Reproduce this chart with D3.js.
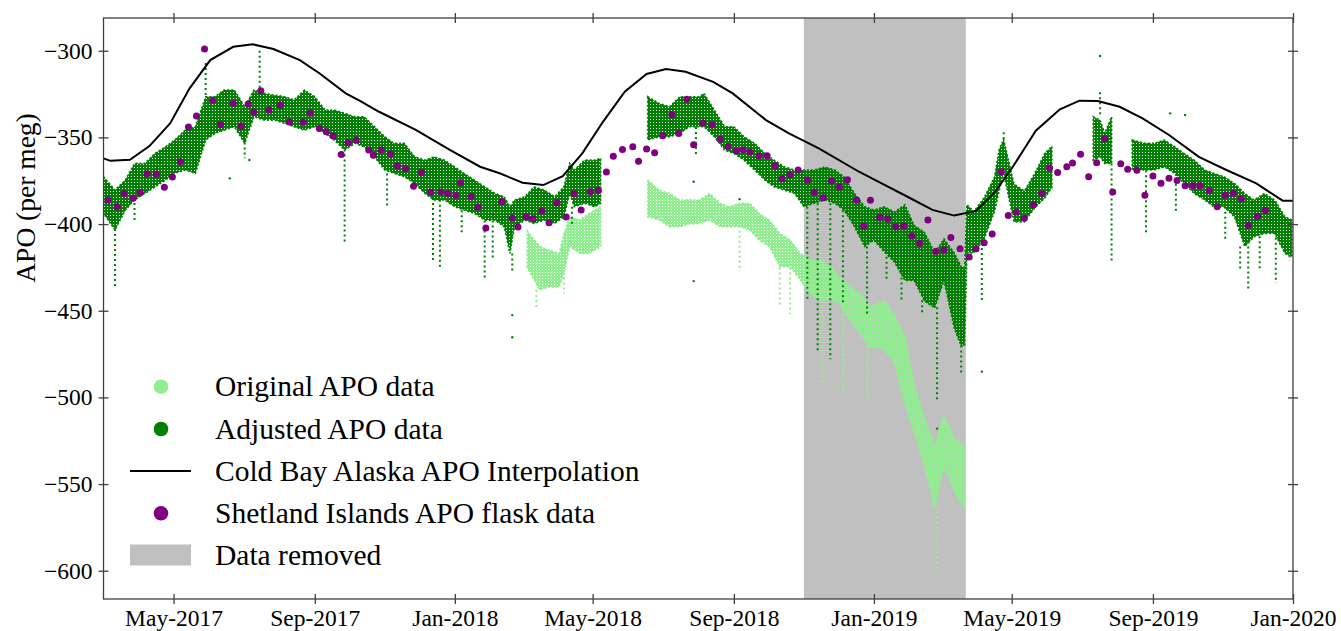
<!DOCTYPE html>
<html><head><meta charset="utf-8">
<script src="https://cdn.jsdelivr.net/npm/d3@7"></script>
<style>
body{margin:0;background:#fff;}
svg{display:block;font-family:"Liberation Serif","Times New Roman",serif;}
</style>
</head><body>
<svg id="chart" width="1341" height="631"></svg>
<script>
// ---------- tick labels ----------
const xTickDates  = ["2017-05-01","2017-09-01","2018-01-01","2018-05-01","2018-09-01","2019-01-01","2019-05-01","2019-09-01","2020-01-01"];
const xTickLabels = ["May-2017","Sep-2017","Jan-2018","May-2018","Sep-2018","Jan-2019","May-2019","Sep-2019","Jan-2020"];
const yTickValues = [-600,-550,-500,-450,-400,-350,-300];
const yTickLabels = ["\u2212600","\u2212550","\u2212500","\u2212450","\u2212400","\u2212350","\u2212300"];

// ---------- Cold Bay Alaska APO interpolation ----------
const coldBayDates = ["2017-03-01","2017-03-07","2017-03-24","2017-04-10","2017-04-28","2017-05-15","2017-06-02","2017-06-22","2017-07-09","2017-07-27","2017-08-19","2017-09-05","2017-09-28","2017-10-10","2017-10-27","2017-11-28","2017-12-28","2018-01-23","2018-02-09","2018-03-01","2018-03-19","2018-04-05","2018-04-22","2018-05-10","2018-05-29","2018-06-17","2018-07-04","2018-07-21","2018-08-14","2018-08-31","2018-09-29","2018-10-19","2018-11-14","2018-12-19","2019-01-06","2019-01-29","2019-02-21","2019-03-12","2019-03-31","2019-04-16","2019-05-02","2019-05-22","2019-06-12","2019-06-29","2019-07-15","2019-08-03","2019-08-23","2019-09-15","2019-10-11","2019-11-04","2019-11-30","2019-12-23","2020-01-01"];
const coldBayValues = [-362.1,-363.5,-362.9,-355,-341.9,-321.7,-305.4,-297.7,-296.3,-299,-305.4,-313,-324.6,-328.8,-335.2,-345.7,-357.3,-366.9,-370.7,-376.1,-377.5,-372.3,-359.2,-341,-323.6,-313.4,-310.6,-312.1,-317.9,-324.6,-340,-347.7,-356.3,-369.8,-375.9,-383.8,-391.8,-395.1,-392.4,-381.9,-366.9,-346.1,-333.8,-328.8,-329,-332.3,-339,-348.6,-361.2,-368.8,-376.5,-386.5,-386.5];

// ---------- Shetland Islands APO flask data ----------
const flaskDates = ["2017-03-05","2017-03-13","2017-03-19","2017-03-27","2017-04-02","2017-04-08","2017-04-16","2017-04-23","2017-04-30","2017-05-07","2017-05-14","2017-05-21","2017-05-28","2017-06-04","2017-06-11","2017-06-22","2017-06-29","2017-07-05","2017-07-10","2017-07-16","2017-07-23","2017-08-02","2017-08-10","2017-08-22","2017-08-28","2017-09-05","2017-09-11","2017-09-17","2017-09-24","2017-09-30","2017-10-07","2017-10-18","2017-10-22","2017-10-29","2017-11-06","2017-11-12","2017-11-19","2017-11-26","2017-12-03","2017-12-11","2017-12-20","2017-12-26","2018-01-02","2018-01-06","2018-01-15","2018-01-21","2018-01-28","2018-02-11","2018-02-20","2018-02-25","2018-03-04","2018-03-10","2018-03-18","2018-03-24","2018-03-31","2018-04-08","2018-04-15","2018-04-21","2018-04-29","2018-05-06","2018-05-13","2018-05-19","2018-05-27","2018-06-05","2018-06-10","2018-06-17","2018-06-24","2018-07-01","2018-07-09","2018-07-15","2018-07-22","2018-07-28","2018-08-05","2018-08-13","2018-08-20","2018-08-27","2018-09-03","2018-09-09","2018-09-15","2018-09-23","2018-09-30","2018-10-07","2018-10-13","2018-10-20","2018-10-27","2018-11-04","2018-11-10","2018-11-18","2018-11-25","2018-12-02","2018-12-09","2018-12-17","2018-12-23","2018-12-29","2019-01-06","2019-01-13","2019-01-20","2019-01-27","2019-02-03","2019-02-10","2019-02-17","2019-02-24","2019-03-03","2019-03-09","2019-03-17","2019-03-25","2019-03-31","2019-04-07","2019-04-14","2019-04-22","2019-04-28","2019-05-05","2019-05-12","2019-05-20","2019-05-27","2019-06-03","2019-06-10","2019-06-18","2019-06-23","2019-06-30","2019-07-07","2019-07-14","2019-07-21","2019-07-28","2019-08-04","2019-08-10","2019-08-18","2019-08-25","2019-09-01","2019-09-08","2019-09-15","2019-09-22","2019-09-29","2019-10-06","2019-10-12","2019-10-20","2019-10-27","2019-11-03","2019-11-10","2019-11-17","2019-11-23","2019-12-01","2019-12-08"];
const flaskValues = [-386.1,-390,-382.5,-385,-381.9,-371,-371.1,-378.8,-372.9,-364,-344,-337.7,-299,-328.6,-342.7,-330.3,-343.4,-330.7,-335.4,-323.1,-334.2,-331.3,-341.1,-341.3,-336.1,-344.8,-346.7,-349.2,-359.8,-353.1,-351.5,-357.3,-360.3,-357.3,-359.6,-366.3,-367.9,-378.2,-370.2,-381.7,-381.5,-382.5,-383.4,-376.1,-384,-390.2,-402.3,-386.9,-396.7,-401.7,-395.8,-396.9,-392.5,-399.2,-387.7,-395.9,-382.5,-391.9,-381.3,-380.5,-370,-360.9,-356.9,-355.4,-363.8,-356.7,-358.8,-349,-336.9,-347.7,-328,-354.2,-341.7,-342.9,-351.1,-355.2,-357.9,-357.1,-358.4,-360.6,-360.6,-366.3,-373.8,-371.5,-368.8,-374.6,-381.7,-384.8,-375.2,-378.6,-374.4,-386.1,-401.3,-386.3,-396.2,-397,-401.6,-401.1,-406.9,-411.1,-397.7,-415.6,-415,-407.7,-414.2,-419,-414.2,-410.7,-405.7,-369.8,-395.1,-393,-396.6,-388.8,-382.4,-367.7,-370.2,-366.9,-364.8,-359.7,-372.7,-364.6,-350.8,-381.5,-365.2,-368.3,-369,-383.4,-372.3,-376.5,-373.6,-374.8,-377.9,-377.9,-377.9,-380.8,-390,-383.3,-382.3,-385.4,-400.6,-395.5,-392.1];

// ---------- Adjusted APO data: dense band (upper / lower edge), null = no data ----------
const adjDates = ["2017-03-01","2017-03-11","2017-03-20","2017-03-28","2017-04-06","2017-04-15","2017-04-24","2017-05-02","2017-05-11","2017-05-20","2017-05-29","2017-06-06","2017-06-14","2017-06-23","2017-07-02","2017-07-10","2017-07-19","2017-07-28","2017-08-06","2017-08-14","2017-08-23","2017-09-01","2017-09-10","2017-09-18","2017-09-27","2017-10-06","2017-10-14","2017-10-23","2017-11-01","2017-11-09","2017-11-18","2017-11-27","2017-12-06","2017-12-14","2017-12-23","2018-01-01","2018-01-09","2018-01-18","2018-01-27","2018-02-05","2018-02-13","2018-02-18","2018-02-22","2018-03-03","2018-03-11","2018-03-20","2018-03-29","2018-04-06","2018-04-11","2018-04-15","2018-04-24","2018-05-03","2018-05-08","2018-05-20","2018-06-18","2018-06-28","2018-07-07","2018-07-16","2018-07-24","2018-08-02","2018-08-06","2018-08-15","2018-08-24","2018-09-01","2018-09-10","2018-09-19","2018-09-28","2018-10-06","2018-10-15","2018-10-24","2018-11-01","2018-11-10","2018-11-19","2018-11-28","2018-12-06","2018-12-15","2018-12-24","2019-01-01","2019-01-10","2019-01-19","2019-01-28","2019-02-05","2019-02-14","2019-02-23","2019-03-03","2019-03-12","2019-03-18","2019-03-21","2019-03-23","2019-03-29","2019-04-07","2019-04-16","2019-04-20","2019-04-24","2019-05-03","2019-05-12","2019-05-21","2019-05-30","2019-06-05","2019-06-20","2019-07-11","2019-07-17","2019-07-21","2019-07-27","2019-08-05","2019-08-14","2019-08-25","2019-09-02","2019-09-11","2019-09-20","2019-09-28","2019-10-07","2019-10-16","2019-10-24","2019-11-02","2019-11-11","2019-11-20","2019-11-28","2019-12-07","2019-12-16","2019-12-25","2019-12-31"];
const adjUpper = [-372.7,-380.4,-374.6,-365,-365,-359.2,-355.4,-351.5,-345.8,-343.8,-326.5,-326.5,-322.7,-322.7,-332.3,-322.7,-324.6,-325.6,-326.5,-328.4,-322.7,-326.5,-334.2,-334.2,-336.1,-338.1,-338.1,-343.8,-349.6,-353.4,-353.4,-361.2,-363.1,-361.2,-363.1,-367,-370.7,-374.6,-378.5,-382.3,-384.2,-390,-386.1,-384.2,-378.5,-380.4,-384.2,-378.5,-365,-368.8,-363.1,-363.1,-362,null,-326.5,-330.4,-332.3,-326.5,-326.5,-326.5,-324.6,-334.2,-343.8,-343.8,-349.6,-353.4,-359.2,-363.1,-367,-368.8,-368.8,-368.8,-367,-368.8,-372.7,-382.3,-390,-391.9,-390,-393,-388.8,-400.7,-404.7,-416.6,-408.6,-416.6,-424.6,-425,-388.8,-392.8,-384.8,-372.9,-357,-351.1,-376.9,-380.9,-370.9,-359,-355.1,null,-338.1,-340,-347.7,-338.1,null,-351.5,-353.4,-353.4,-351.5,-355.4,-359.2,-363.1,-368.8,-370.7,-372.7,-376.5,-382.3,-386.1,-382.3,-386.1,-395.8,-397.7];
const adjLower = [-393.8,-403.4,-391.9,-386.1,-382.3,-378.5,-374.6,-370.7,-368.8,-370.7,-351.5,-347.7,-345.8,-343.8,-353.4,-338.1,-340,-340,-341.9,-343.8,-345.8,-343.8,-347.7,-351.5,-357.3,-353.4,-355.4,-361.2,-368.8,-370.7,-372.7,-376.5,-382.3,-386.1,-386.1,-390,-391.9,-393.8,-397.7,-397.7,-401.5,-416.9,-401.5,-397.7,-399.6,-397.7,-399.6,-395.8,-382.3,-390,-388,-390,-388,null,-351.5,-349.6,-349.6,-347.7,-343.8,-343.8,-343.8,-349.6,-357.3,-359.2,-363.1,-368.8,-374.6,-378.5,-380.4,-382.3,-390,-388,-386.1,-388,-391.9,-401.5,-413,-409.2,-416,-422,-432.5,-432.5,-444.4,-448.4,-432.5,-460.3,-470.3,-470,-416.6,-416.6,-408.6,-392.8,-380.9,-370.9,-398.7,-398.7,-390.7,-384.8,-378.9,null,-363.1,-361.2,-365,-365,null,-368.8,-368.8,-368.8,-367,-370.7,-376.5,-382.3,-386.1,-390,-390,-395.8,-413,-407.3,-405.4,-405.4,-416.9,-418.8];

// vertical streaks of sparse adjusted points (top / bottom of streak)
const adjSpikeDates  = ["2017-03-11","2017-03-28","2017-05-29","2017-07-02","2017-07-15","2017-09-27","2017-11-03","2017-12-13","2017-12-19","2018-01-07","2018-01-27","2018-02-03","2018-02-20","2018-04-13","2018-07-30","2018-11-04","2018-11-13","2018-11-24","2018-12-05","2018-12-26","2019-01-12","2019-01-25","2019-02-12","2019-02-25","2019-03-18","2019-04-05","2019-04-24","2019-07-17","2019-07-27","2019-08-26","2019-09-21","2019-11-03","2019-11-16","2019-11-23","2019-12-03","2019-12-17","2019-12-29"];
const adjSpikeTop    = [-400,-385,-307,-353,-300,-357,-368,-385,-386,-392,-398,-398,-417,-390,-344,-390,-388,-388,-392,-413,-416,-425,-444,-448,-470,-408,-347,-324,-365,-369,-371,-390,-413,-410,-407,-405,-418];
const adjSpikeBottom = [-436,-398,-326,-362,-322,-410,-390,-421,-426,-405,-432,-420,-428,-400,-361,-444,-474,-478,-446,-452,-432,-444,-452,-502,-486,-444,-351,-338,-421,-405,-394,-409,-427,-438,-427,-434,-421];

// isolated adjusted points
const adjOutlierDates  = ["2017-06-19","2017-07-06","2018-02-20","2018-02-20","2018-07-28","2018-07-28","2018-09-06","2019-02-25","2019-04-05","2019-07-17","2019-09-16","2019-09-29"];
const adjOutlierValues = [-373.6,-363,-452.5,-465.3,-375.6,-432.9,-385.6,-518,-485.1,-303,-336.1,-337.1];

// ---------- Original APO data (only where it differs from adjusted) ----------
const origDates = ["2018-03-05","2018-03-16","2018-03-24","2018-04-02","2018-04-06","2018-04-11","2018-04-20","2018-04-28","2018-05-08","2018-05-20","2018-06-18","2018-06-28","2018-07-07","2018-07-16","2018-07-24","2018-08-02","2018-08-11","2018-08-20","2018-08-28","2018-09-06","2018-09-15","2018-09-23","2018-10-02","2018-10-11","2018-10-20","2018-10-29","2018-11-06","2018-11-15","2018-11-24","2018-12-02","2018-12-11","2018-12-20","2018-12-28","2019-01-10","2019-01-19","2019-01-28","2019-02-05","2019-02-14","2019-02-23","2019-03-03","2019-03-12","2019-03-21"];
const origUpper = [-404,-413,-415,-416.9,-405.4,-395.8,-397.7,-393.8,-390,null,-374.6,-380.4,-382.3,-386.1,-386,-386.1,-382.3,-388,-390,-388,-388,-393.8,-397.7,-405.4,-409.2,-416.9,-420.7,-420.7,-424.6,-430.4,-436.2,-440,-447.7,-444.4,-452.4,-464.3,-492.1,-511.9,-527.9,-510,-523.9,-527.9];
const origLower = [-425,-438,-436.2,-436.2,-428.4,-413,-416.9,-416.9,-413,null,-395.8,-397.7,-401.5,-401.5,-400,-399.6,-397.7,-401.5,-401.5,-401.5,-403.4,-409.2,-413,-424.6,-424.6,-432.3,-439.9,-443.8,-443.8,-445.7,-455.4,-463.1,-470.8,-472.3,-480.2,-504.1,-519.9,-539.8,-563.6,-539.8,-553.7,-563.6];
const origSpikeDates  = ["2018-03-13","2018-04-06","2018-09-06","2018-10-11","2018-10-20","2018-11-17","2018-12-05","2018-12-26","2019-02-25"];
const origSpikeTop    = [-438,-428,-401,-425,-425,-444,-446,-470,-563];
const origSpikeBottom = [-448,-440,-427,-448,-452,-494,-497,-503,-601];

// ---------- data removed period ----------
const removedStart = "2018-11-01";
const removedEnd   = "2019-03-22";

// ---------- legend ----------
const legendLabels = ["Original APO data","Adjusted APO data","Cold Bay Alaska APO Interpolation","Shetland Islands APO flask data","Data removed"];

// ================= drawing =================
const parse = d3.timeParse("%Y-%m-%d");
const svg = d3.select("#chart");
const L = 103.5, R = 1293, T = 18, B = 599;
const FONT = '"Liberation Serif","Times New Roman",serif';

const x = d3.scaleTime().domain([parse("2017-03-01"), parse("2020-01-01")]).range([L, R]);
const y = d3.scaleLinear().domain([-616.3, -281.1]).range([B, T]);

const cGreen = "#008000", cLight = "#90ee90", cPurple = "#800080", cGrey = "#c0c0c0";

const defs = svg.append("defs");
defs.append("clipPath").attr("id","clip").append("rect")
  .attr("x", L).attr("y", T).attr("width", R-L).attr("height", B-T);
// streaky texture: the hourly points form dense vertical streaks
function streakPattern(id, color){
  const p = defs.append("pattern").attr("id", id).attr("patternUnits","userSpaceOnUse")
    .attr("width", 3).attr("height", 3);
  p.append("rect").attr("x",0).attr("y",0).attr("width",2).attr("height",3).attr("fill",color);
  p.append("rect").attr("x",2).attr("y",0).attr("width",1).attr("height",2).attr("fill",color);
}
streakPattern("pGreen", cGreen);
streakPattern("pLight", cLight);

const plot = svg.append("g").attr("clip-path","url(#clip)");

// grey "data removed" band
plot.append("rect")
  .attr("x", x(parse(removedStart))).attr("y", T)
  .attr("width", x(parse(removedEnd)) - x(parse(removedStart)))
  .attr("height", B - T).attr("fill", cGrey);

function band(dates, upper, lower, color, pat){
  const rows = dates.map((d,i)=>({d: parse(d), u: upper[i], l: lower[i]}));
  const area = d3.area()
    .defined(r => r.u !== null && r.l !== null)
    .x(r => x(r.d)).y0(r => y(r.l)).y1(r => y(r.u));
  plot.append("path").datum(rows).attr("d", area)
    .attr("fill", `url(#${pat})`).attr("stroke", color).attr("stroke-width", 1.6)
    .attr("stroke-dasharray","2,2");
}
function spikes(dates, top, bottom, color){
  plot.append("g").selectAll("line").data(dates).join("line")
    .attr("x1", d => x(parse(d))).attr("x2", d => x(parse(d)))
    .attr("y1", (d,i) => y(top[i])).attr("y2", (d,i) => y(bottom[i]))
    .attr("stroke", color).attr("stroke-width", 2).attr("stroke-dasharray", "2,3");
}

// original (light green)
band(origDates, origUpper, origLower, cLight, "pLight");
spikes(origSpikeDates, origSpikeTop, origSpikeBottom, cLight);

// adjusted (green)
band(adjDates, adjUpper, adjLower, cGreen, "pGreen");
spikes(adjSpikeDates, adjSpikeTop, adjSpikeBottom, cGreen);
plot.append("g").selectAll("circle").data(adjOutlierDates).join("circle")
  .attr("cx", d => x(parse(d))).attr("cy", (d,i) => y(adjOutlierValues[i]))
  .attr("r", 1.2).attr("fill", cGreen);

// Cold Bay line
const lineGen = d3.line().x(d => x(d.d)).y(d => y(d.v));
plot.append("path")
  .datum(coldBayDates.map((d,i)=>({d: parse(d), v: coldBayValues[i]})))
  .attr("d", lineGen).attr("fill","none").attr("stroke","#000").attr("stroke-width", 2);

// Shetland flask
plot.append("g").selectAll("circle").data(flaskDates).join("circle")
  .attr("cx", d => x(parse(d))).attr("cy", (d,i) => y(flaskValues[i]))
  .attr("r", 3.5).attr("fill", cPurple);

// ---------- axes ----------
const axisColor = "#404040";
svg.append("rect").attr("x", L).attr("y", T).attr("width", R-L).attr("height", B-T)
  .attr("fill","none").attr("stroke", axisColor).attr("stroke-width", 1.3);

const xt = xTickDates.map(parse);
const gx = svg.append("g").attr("transform", `translate(0,${B})`)
  .call(d3.axisBottom(x).tickValues(xt).tickFormat((d,i)=>xTickLabels[i]).tickSizeInner(5).tickSizeOuter(0));
gx.attr("font-family", FONT);
gx.select(".domain").remove();
gx.selectAll(".tick line").attr("y1", -5).attr("stroke", axisColor).attr("stroke-width", 1.3);
gx.selectAll(".tick text").attr("y", 10).attr("font-size", 23.5).attr("fill","#000");

const gxt = svg.append("g").attr("transform", `translate(0,${T})`)
  .call(d3.axisTop(x).tickValues(xt).tickFormat("").tickSizeInner(5).tickSizeOuter(0));
gxt.select(".domain").remove();
gxt.selectAll(".tick line").attr("y1", 5).attr("stroke", axisColor).attr("stroke-width", 1.3);

const gy = svg.append("g").attr("transform", `translate(${L},0)`)
  .call(d3.axisLeft(y).tickValues(yTickValues).tickFormat((d,i)=>yTickLabels[i]).tickSizeInner(5).tickSizeOuter(0));
gy.attr("font-family", FONT);
gy.select(".domain").remove();
gy.selectAll(".tick line").attr("x1", 5).attr("stroke", axisColor).attr("stroke-width", 1.3);
gy.selectAll(".tick text").attr("x", -11).attr("font-size", 23.5).attr("fill","#000");

const gyr = svg.append("g").attr("transform", `translate(${R},0)`)
  .call(d3.axisRight(y).tickValues(yTickValues).tickFormat("").tickSizeInner(5).tickSizeOuter(0));
gyr.select(".domain").remove();
gyr.selectAll(".tick line").attr("x1", -5).attr("stroke", axisColor).attr("stroke-width", 1.3);

// y-axis title
svg.append("text").attr("transform", "translate(35,198) rotate(-90)")
  .attr("text-anchor","middle").attr("font-family", FONT).attr("font-size", 27.5).attr("fill","#000")
  .text("APO (per meg)");

// ---------- legend ----------
const lg = svg.append("g").attr("font-family", FONT);
const rowY = [386.7, 429, 471, 513.3, 555];
lg.append("circle").attr("cx",161).attr("cy",rowY[0]).attr("r",7.3).attr("fill",cLight);
lg.append("circle").attr("cx",161).attr("cy",rowY[1]).attr("r",7.3).attr("fill",cGreen);
lg.append("line").attr("x1",130).attr("x2",191).attr("y1",rowY[2]).attr("y2",rowY[2]).attr("stroke","#000").attr("stroke-width",2.2);
lg.append("circle").attr("cx",161).attr("cy",rowY[3]).attr("r",7.3).attr("fill",cPurple);
lg.append("rect").attr("x",130).attr("y",rowY[4]-10.5).attr("width",61).attr("height",21).attr("fill",cGrey);
lg.selectAll("text.lab").data(legendLabels).join("text").attr("class","lab")
  .attr("x", 215).attr("y", (d,i) => rowY[i] + 9.5)
  .attr("font-size", 29.5).attr("fill","#000").text(d => d);
</script>
</body></html>
